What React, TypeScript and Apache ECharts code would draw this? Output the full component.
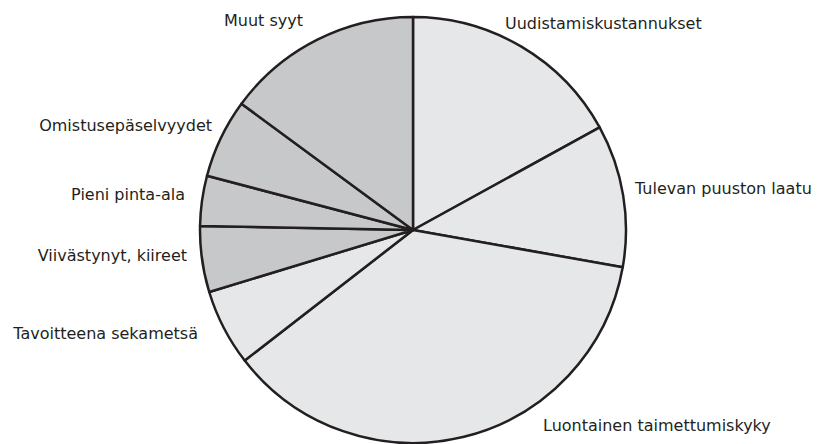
import React, { useEffect, useRef } from "react";
import * as echarts from "echarts";

const categories = [
  "Uudistamiskustannukset",
  "Tulevan puuston laatu",
  "Luontainen taimettumiskyky",
  "Tavoitteena sekametsä",
  "Viivästynyt, kiireet",
  "Pieni pinta-ala",
  "Omistusepäselvyydet",
  "Muut syyt",
];
const values = [17.0, 10.8, 36.7, 5.8, 5.0, 3.8, 6.0, 14.9];
const sliceColors = ["#e6e7e8", "#e6e7e8", "#e6e7e8", "#e6e7e8", "#c7c8ca", "#c7c8ca", "#c7c8ca", "#c7c8ca"];

// label anchor positions (x, y, align)
const labelPos: [number, number, string][] = [
  [505, 23, "left"],
  [635, 188, "left"],
  [543, 425, "left"],
  [198, 333, "right"],
  [187, 255, "right"],
  [185, 194, "right"],
  [212, 125, "right"],
  [303, 20, "right"],
];

export default function App() {
  const ref = useRef<HTMLDivElement>(null);
  useEffect(() => {
    if (!ref.current) return;
    const chart = echarts.init(ref.current, undefined, { renderer: "svg" });
    chart.setOption({
      animation: false,
      backgroundColor: "#ffffff",
      series: [
        {
          type: "pie",
          center: [413, 230],
          radius: 213,
          startAngle: 90,
          clockwise: true,
          avoidLabelOverlap: false,
          data: categories.map((name, i) => ({
            name,
            value: values[i],
            itemStyle: { color: sliceColors[i] },
          })),
          itemStyle: { borderColor: "#231f20", borderWidth: 2.5 },
          label: {
            show: true,
            position: "outside",
            color: "#231f20",
            fontFamily: "DejaVu Sans",
            fontSize: 16,
            formatter: "{b}",
          },
          labelLine: { show: false },
          labelLayout: (params: any) => {
            const p = labelPos[params.dataIndex];
            return { x: p[0], y: p[1], align: p[2], verticalAlign: "middle" };
          },
          emphasis: { disabled: true },
        },
      ],
    });
    return () => chart.dispose();
  }, []);
  return (
    <div
      ref={ref}
      style={{ position: "fixed", left: 0, top: 0, width: 823, height: 444 }}
    />
  );
}
